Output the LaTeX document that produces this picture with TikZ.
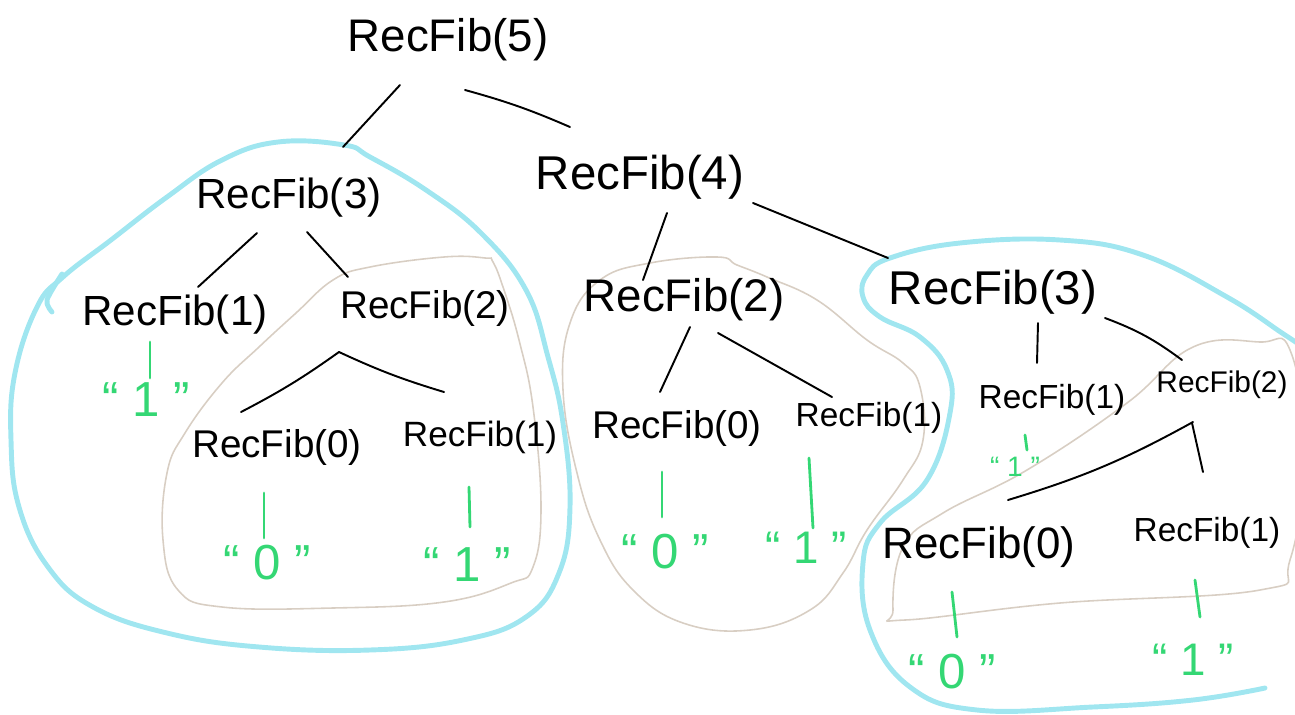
\documentclass[tikz,border=0pt]{standalone}
\usepackage{fontspec}
\setmainfont{Liberation Sans}
\usepackage{xcolor}
\definecolor{mBlue}  {HTML}{A0E6F0}
\definecolor{mSand}  {HTML}{D8CEC3}
\definecolor{mGreen} {HTML}{34D774}

\begin{document}
\begin{tikzpicture}[x=0.02cm, y=-0.02cm,
    fib/.style={font=\fontsize{#1}{#1}\selectfont, inner sep=0pt},
    fib/.default=24,
    val/.style={font=\fontsize{#1}{#1}\selectfont, text=mGreen, inner sep=0pt},
    val/.default=28,
    link/.style={line width=1.1pt, line cap=round},
    ret/.style={mGreen, line width=1.6pt, line cap=round},
    blob/.style={mBlue, line width=2.8pt, line cap=round},
    subtree/.style={mSand, line width=0.9pt}]
    \useasboundingbox (0,0) rectangle (1295,714);
    \clip (0,0) rectangle (1295,714);

    \draw[blob] plot[smooth cycle, tension=0.7] coordinates {(344,145) (278,142)
      (222,160) (167,197) (111,240) (63,277) (37,307) (15,373) (11,440) (19,507)
      (48,567) (93,607) (167,633) (259,647) (370,650) (463,640) (526,617)
      (559,573) (570,507) (563,423) (548,357) (526,290) (481,233) (426,190)
      (370,157)};
    \draw[blob] plot[smooth] coordinates {(62,274) (47,300) (52,312)};
    \draw[subtree] plot[smooth cycle, tension=0.7] coordinates {(485,258)
      (444,257) (370,267) (333,280) (296,313) (259,347) (222,383) (185,433)
      (167,473) (163,540) (178,590) (222,607) (333,608) (444,602) (511,583)
      (533,567) (541,507) (533,407) (519,340) (504,290) (493,262)};
    \draw[subtree] plot[smooth cycle, tension=0.7] coordinates {(717,257)
      (650,263) (600,280) (570,323) (563,390) (577,473) (600,540) (633,590)
      (683,623) (750,630) (810,610) (843,573) (867,530) (903,480) (923,440)
      (920,387) (903,363) (867,340) (817,300) (767,277) (737,265)};
    \draw[blob] plot[smooth, tension=0.7] coordinates {(1300,345) (1282,333)
      (1227,297) (1143,255) (1060,240) (960,243) (890,258) (867,275) (863,297)
      (880,317) (920,337) (947,370) (950,413) (927,480) (880,523) (863,563)
      (870,630) (910,687) (977,710) (1093,707) (1193,700) (1265,688)};
    \draw[subtree] plot[smooth cycle, tension=0.7] coordinates {(1260,342)
      (1193,347) (1127,403) (1027,470) (943,513) (903,547) (893,610) (905,620)
      (1060,603) (1260,590) (1290,560) (1305,450) (1290,350)};

    \node[fib=26] (f5)  at (448,40)  {RecFib(5)};
    \node[fib=24] (f3a) at (289,198) {RecFib(3)};
    \node[fib=27] (f4)  at (640,177) {RecFib(4)};
    \node[fib=24] (f1a) at (175,315) {RecFib(1)};
    \node[fib=22] (f2a) at (425,308) {RecFib(2)};
    \node[fib=22] (f0a) at (277,447) {RecFib(0)};
    \node[fib=20] (f1b) at (480,437) {RecFib(1)};
    \node[fib=26] (f2b) at (684,300) {RecFib(2)};
    \node[fib=22] (f0b) at (677,428) {RecFib(0)};
    \node[fib=19] (f1c) at (869,418) {RecFib(1)};
    \node[fib=27] (f3b) at (993,292) {RecFib(3)};
    \node[fib=19] (f1d) at (1052,400) {RecFib(1)};
    \node[fib=17] (f2c) at (1222,385) {RecFib(2)};
    \node[fib=25] (f0c) at (979,547) {RecFib(0)};
    \node[fib=19] (f1e) at (1207,533) {RecFib(1)};

    \node[val]    (v1a) at (146,400)  {“\;1\;”};
    \node[val]    (v0a) at (267,563)  {“\;0\;”};
    \node[val]    (v1b) at (467,565)  {“\;1\;”};
    \node[val]    (v0b) at (665,552)  {“\;0\;”};
    \node[val=26] (v1c) at (806,548)  {“\;1\;”};
    \node[val=16] (v1d) at (1015,467) {“\;1\;”};
    \node[val]    (v0c) at (952,672)  {“\;0\;”};
    \node[val=26] (v1e) at (1193,660) {“\;1\;”};

    \draw[link] ([shift={(-48,45)}]f5.center)  -- ([shift={(54,-51)}]f3a.center);
    \draw[link] ([shift={(17,50)}]f5.center)   to[bend left=4] ([shift={(-70,-50)}]f4.center);
    \draw[link] ([shift={(-32,35)}]f3a.center) -- ([shift={(23,-28)}]f1a.center);
    \draw[link] ([shift={(18,34)}]f3a.center)  -- ([shift={(-77,-31)}]f2a.center);
    \draw[link] ([shift={(-86,44)}]f2a.center) to[bend left=4] ([shift={(-36,-35)}]f0a.center);
    \draw[link] ([shift={(-86,44)}]f2a.center) to[bend right=4] ([shift={(-36,-45)}]f1b.center);
    \draw[link] ([shift={(27,36)}]f4.center)   -- ([shift={(-41,-20)}]f2b.center);
    \draw[link] ([shift={(113,26)}]f4.center)  -- ([shift={(-105,-34)}]f3b.center);
    \draw[link] ([shift={(6,27)}]f2b.center)   -- ([shift={(-17,-36)}]f0b.center);
    \draw[link] ([shift={(34,33)}]f2b.center)  -- ([shift={(-37,-21)}]f1c.center);
    \draw[link] ([shift={(45,31)}]f3b.center)  -- ([shift={(-15,-37)}]f1d.center);
    \draw[link] ([shift={(112,26)}]f3b.center) to[bend left=8] ([shift={(-40,-25)}]f2c.center);
    \draw[link] ([shift={(-29,37)}]f2c.center) to[bend left=6] ([shift={(29,-47)}]f0c.center);
    \draw[link] ([shift={(-30,38)}]f2c.center) -- ([shift={(-4,-61)}]f1e.center);

    \draw[ret] ([shift={(-25,27)}]f1a.center)  -- ([shift={(4,-22)}]v1a.center);
    \draw[ret] ([shift={(-13,46)}]f0a.center)  -- ([shift={(-3,-25)}]v0a.center);
    \draw[ret] ([shift={(-11,50)}]f1b.center)  -- ([shift={(3,-38)}]v1b.center);
    \draw[ret] ([shift={(-15,44)}]f0b.center)  -- ([shift={(-3,-35)}]v0b.center);
    \draw[ret] ([shift={(-60,40)}]f1c.center)  -- ([shift={(7,-20)}]v1c.center);
    \draw[ret] ([shift={(-27,35)}]f1d.center)  -- ([shift={(12,-17)}]v1d.center);
    \draw[ret] ([shift={(-27,45)}]f0c.center)  -- ([shift={(5,-35)}]v0c.center);
    \draw[ret] ([shift={(-12,47)}]f1e.center)  -- ([shift={(7,-43)}]v1e.center);
\end{tikzpicture}
\end{document}
